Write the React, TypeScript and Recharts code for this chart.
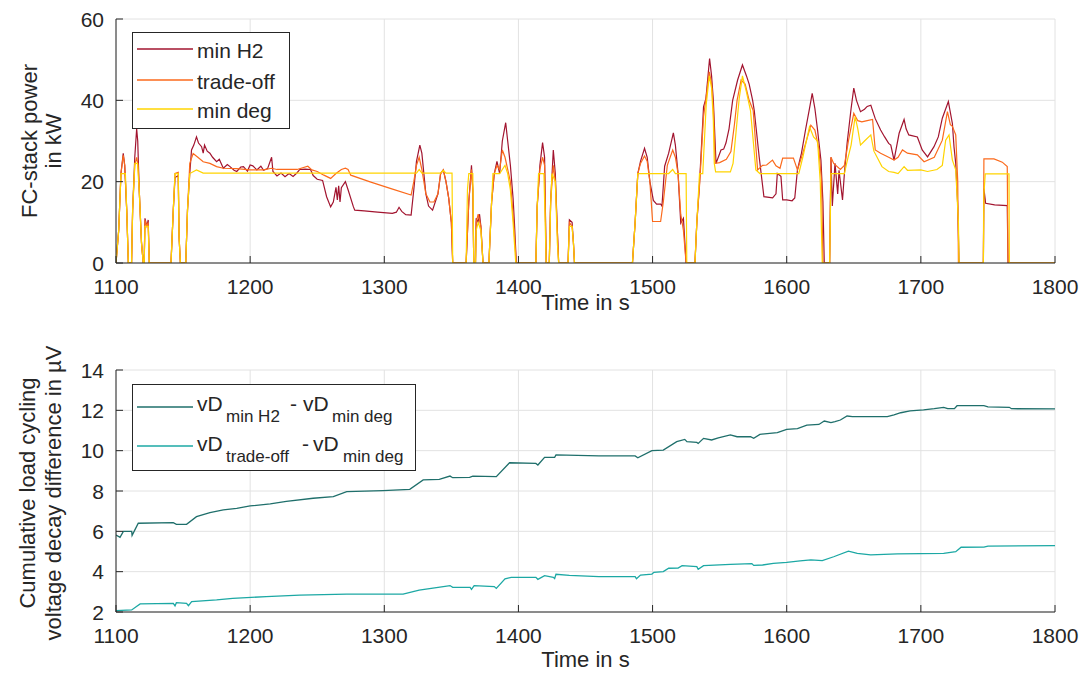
import React from 'react'
import { LineChart, Line, XAxis, YAxis, CartesianGrid, Legend } from 'recharts'

const FONT = '"Liberation Sans", Arial, Helvetica, sans-serif'
const AXIS = '#262626'
const GRID = '#e2e2e2'

const timeTicks = [1100, 1200, 1300, 1400, 1500, 1600, 1700, 1800]
const powerTicks = [0, 20, 40, 60]
const decayTicks = [2, 4, 6, 8, 10, 12, 14]

// FC-stack power in kW, [time s, value]
const minH2: [number, number][] = [
  [1100, 0], [1102, 8], [1103.7, 22], [1105.4, 27], [1106.5, 24], [1108, 13], [1109.2, 0], [1111.6, 0],
  [1112.4, 13], [1114, 26], [1115.4, 33], [1116.2, 30], [1117.3, 18], [1119, 5], [1120.3, 0], [1121, 0],
  [1121.6, 11], [1123, 9], [1124, 10.6], [1124.8, 0], [1141, 0], [1142.7, 13], [1144, 21], [1146.4, 21.5],
  [1147, 6.5], [1148, 0], [1152, 0], [1153.3, 13], [1155, 22], [1156.3, 27.8], [1158, 29], [1160, 31],
  [1161.5, 29.5], [1163.8, 28.6], [1165, 27], [1166, 29], [1168, 27.5], [1170, 27], [1172, 26], [1175, 24.9],
  [1177, 25.5], [1180, 23.3], [1183, 24.2], [1185, 23.7], [1188, 22.8], [1190, 22.5], [1193, 23.6], [1195, 23.7],
  [1198, 22.6], [1200, 24.1], [1202, 23.9], [1205, 22.9], [1208, 23.8], [1210, 22.8], [1213, 23.2], [1216, 26],
  [1217, 22.5], [1220, 21.4], [1223, 22.1], [1226, 21.2], [1229, 22], [1232, 21.3], [1235, 22.2], [1237, 23],
  [1241, 23.1], [1245, 23], [1247, 21.5], [1250, 20.6], [1254, 20.3], [1257, 16.3], [1260, 13.8], [1262, 15],
  [1264, 18.6], [1265, 15.5], [1266, 19], [1267, 15], [1268, 18.5], [1271, 20], [1273, 18], [1277, 13.8],
  [1278, 13], [1285, 12.8], [1295, 12.5], [1306, 12.2], [1309, 12.5], [1311, 13.7], [1313, 12.7], [1316, 11.9],
  [1320, 11.8], [1322, 18], [1324, 25], [1326.5, 29], [1328, 27], [1331, 17], [1333, 14], [1336, 13],
  [1340, 17], [1342, 22], [1344, 22.9], [1346, 20], [1348, 16], [1350, 10], [1351, 0], [1361, 0],
  [1363, 15], [1365, 24], [1366, 18], [1366.7, 0], [1368, 0], [1368.5, 11], [1370, 10], [1371, 12],
  [1372, 9], [1373.6, 0], [1378, 0], [1380, 15], [1382, 22], [1384, 25], [1386, 22], [1388, 30],
  [1390.5, 34.5], [1392, 30], [1394, 24], [1396, 16], [1397, 10], [1398, 3], [1398.4, 0], [1413, 0],
  [1414, 14], [1416, 24], [1418, 29.6], [1419.5, 26], [1420.7, 0], [1423, 0], [1424, 15], [1426, 27.8],
  [1427.5, 22], [1429, 8], [1430, 0], [1437, 0], [1438, 10.6], [1440, 10], [1441, 5], [1441.8, 0],
  [1485, 0], [1487, 10], [1489, 22], [1491, 25], [1494, 28.2], [1496, 26], [1498, 20], [1500.6, 15.4],
  [1503, 14.5], [1506, 14.5], [1507, 14], [1509, 23.8], [1512, 27], [1515.5, 32], [1517, 29], [1519, 22],
  [1521, 9.8], [1523, 11], [1525, 0], [1531.6, 0], [1533, 10], [1535, 19.6], [1538, 38.4], [1539.8, 40.5],
  [1542.5, 50.3], [1544, 46], [1545.3, 40], [1547.3, 24.5], [1549, 26], [1551, 27.8], [1553, 28], [1554.7, 29.5],
  [1557, 33], [1559.7, 40], [1563.4, 45], [1567, 48.7], [1570, 46], [1572, 44], [1574.6, 40], [1575.8, 37.5],
  [1579.5, 26], [1583, 16.3], [1589.5, 16], [1592, 17], [1593, 22], [1595.7, 21.3], [1597, 15.5], [1600, 15.5],
  [1604, 15.3], [1606, 16], [1608, 22.9], [1611, 27], [1614, 32.7], [1617, 38], [1619, 41.7], [1621, 38],
  [1623, 32.7], [1625.5, 25.3], [1627, 15], [1628, 0], [1632, 0], [1633, 26], [1634, 14], [1636, 24.5],
  [1638, 17], [1639, 22.8], [1641.6, 15.5], [1643, 22], [1645, 29.4], [1648, 38], [1650, 43], [1652, 40],
  [1655, 37.2], [1658, 37.8], [1660, 38.5], [1662.7, 38.8], [1666, 35.5], [1670, 32.7], [1673, 31], [1676, 29.4],
  [1677.6, 29], [1680, 25.3], [1683.8, 31.9], [1687.5, 35.3], [1689, 33], [1691, 31.5], [1697.4, 31], [1701, 27.8],
  [1705, 26.1], [1709.8, 28.6], [1713, 31], [1716, 35.6], [1720.5, 39.7], [1723.5, 34.3], [1724.7, 28.6], [1726, 24.5],
  [1727.5, 14], [1728.5, 0], [1746.6, 0], [1747, 18.3], [1748.3, 14.7], [1755, 14.3], [1764.4, 14.1], [1765, 0],
  [1800, 0],
]

const tradeOff: [number, number][] = [
  [1100, 0], [1102, 8], [1103.7, 22], [1105.4, 26.5], [1106.5, 24], [1108, 13], [1109.2, 0], [1111.6, 0],
  [1112.4, 13], [1114, 24], [1115.4, 26], [1116.5, 24], [1117.3, 18], [1119, 5], [1120.3, 0], [1121, 0],
  [1121.6, 10.5], [1123, 9], [1124, 10], [1124.8, 0], [1141, 0], [1142.7, 13], [1144, 22], [1146.4, 22.3],
  [1147, 6.5], [1148, 0], [1152, 0], [1153.3, 13], [1155, 24.5], [1157.5, 26.9], [1161, 26], [1165, 24.9],
  [1170, 24.5], [1175, 23.7], [1180, 23.3], [1190, 23.2], [1200, 22.9], [1210, 22.9], [1216, 23.3], [1220, 23],
  [1235, 23], [1243, 23.8], [1246, 22.9], [1250, 22.5], [1255, 21.6], [1260, 20.8], [1264, 22], [1268, 23],
  [1271, 23.3], [1273, 23], [1275, 21.6], [1290, 19.9], [1305, 18.3], [1320, 16.7], [1322, 20], [1324, 24],
  [1326, 26], [1328, 23], [1331, 17], [1334, 15], [1337, 15], [1340, 17], [1342, 22], [1344, 22.9],
  [1346, 20], [1348, 16], [1350, 10], [1351, 0], [1361, 0], [1363, 15], [1365, 23], [1366, 18],
  [1366.7, 0], [1368, 0], [1368.5, 10], [1370, 12], [1372, 9], [1373.6, 0], [1378, 0], [1380, 15],
  [1382, 22], [1384, 24], [1386, 23], [1388, 27.8], [1390, 26], [1392, 23], [1394, 20], [1396, 12],
  [1398, 2], [1398.4, 0], [1413, 0], [1414, 14], [1416, 23], [1418, 26], [1419.5, 24], [1420.7, 0],
  [1423, 0], [1424, 15], [1426, 24], [1427.5, 20], [1429, 8], [1430, 0], [1437, 0], [1438, 10],
  [1440, 9], [1441, 5], [1441.8, 0], [1485, 0], [1487, 10], [1489, 22], [1491, 24.5], [1494, 26.3],
  [1496, 25], [1498, 20], [1500, 10.2], [1506, 10.2], [1508, 15], [1511, 24], [1515, 27.8], [1517, 26],
  [1519, 22], [1521, 12], [1523, 8], [1525, 0], [1531.6, 0], [1533, 10], [1535, 19], [1538, 36],
  [1540, 41], [1542.3, 47], [1544, 44], [1545.3, 38], [1546.7, 24.5], [1550, 24.7], [1555, 25.5], [1558.4, 27.4],
  [1561, 34], [1563, 40], [1566, 45], [1569, 44], [1572, 40], [1575, 37.5], [1578.3, 22.9], [1582, 24],
  [1585, 24.1], [1589.4, 25.3], [1592, 23.9], [1595, 23.3], [1597, 25.8], [1605, 25.8], [1608, 22.9], [1612, 27],
  [1618, 33.9], [1621, 32.7], [1624, 28], [1626, 20], [1627, 0], [1632, 0], [1633, 26], [1635, 24.5],
  [1640, 23], [1643, 24], [1646, 30], [1650, 36.8], [1653, 35], [1656, 34.7], [1660, 35], [1664, 35.3],
  [1666, 27.8], [1670, 27], [1676, 26], [1680, 25.3], [1683, 26], [1686.3, 27.8], [1690, 27], [1697.4, 26.6],
  [1702.4, 24.9], [1710, 26], [1716, 30.2], [1719.8, 37.2], [1722, 34], [1723.5, 33.6], [1726, 31.5], [1727.5, 20],
  [1728, 0], [1746.6, 0], [1747, 25.6], [1754.5, 25.6], [1760.7, 24.8], [1764.4, 23.7], [1765, 0], [1800, 0],
]

const minDeg: [number, number][] = [
  [1100, 0], [1102, 8], [1103.7, 22], [1107, 22], [1108, 13], [1109.2, 0], [1111.6, 0], [1112.4, 13],
  [1114, 24.5], [1116, 24.5], [1117.3, 18], [1119, 5], [1120.3, 0], [1121, 0], [1121.6, 9], [1124, 9],
  [1124.8, 0], [1141, 0], [1142.7, 13], [1144, 22], [1146.4, 22], [1147, 6.5], [1148, 0], [1152, 0],
  [1153.3, 13], [1155, 22], [1160, 22.9], [1165, 22.1], [1324, 22.1], [1326, 23], [1328, 22.1], [1342, 22.1],
  [1344, 22.8], [1346, 22.1], [1350.5, 22.1], [1351, 0], [1361, 0], [1362, 18], [1363, 22], [1366, 22],
  [1366.7, 0], [1368, 0], [1368.5, 8], [1370, 10], [1372, 8], [1373.6, 0], [1378, 0], [1380, 15],
  [1381, 22], [1386, 22], [1388, 23], [1390, 24], [1392, 22], [1394, 18], [1396, 10], [1398, 0],
  [1413, 0], [1414, 14], [1415, 22], [1419, 22], [1420.7, 0], [1423, 0], [1424, 14], [1425, 22],
  [1427.5, 20], [1429, 5], [1430, 0], [1437, 0], [1438, 9], [1440, 9], [1441, 5], [1441.8, 0],
  [1485, 0], [1487, 10], [1489, 22], [1512, 22], [1515, 23], [1517, 22], [1525, 22], [1525.5, 0],
  [1531.6, 0], [1533, 10], [1535, 22], [1537.4, 22], [1540, 39], [1542.3, 46], [1544, 43], [1545.3, 35],
  [1546, 24.5], [1547, 22.4], [1558, 22.4], [1560, 24.5], [1564.6, 40.5], [1567, 46], [1570, 42], [1573, 37.5],
  [1577, 22.9], [1580, 22], [1609, 22], [1612, 26], [1617, 33.5], [1620, 31], [1623, 30], [1625, 20],
  [1626.5, 0], [1632, 0], [1633, 22], [1643, 22], [1645, 25], [1648, 29], [1651, 36], [1653, 33],
  [1655, 29], [1658, 30], [1662.7, 31.5], [1665, 27.5], [1671, 23.7], [1676, 22.5], [1680, 22.3], [1683, 22],
  [1687.5, 23.7], [1690, 22.8], [1700, 22.9], [1705, 22.5], [1712, 23], [1716, 24], [1718.5, 30.2], [1721, 31.5],
  [1723.5, 25.3], [1726, 22.9], [1728, 10], [1728.5, 0], [1746.6, 0], [1747, 17], [1748, 21.9], [1765.7, 21.9],
  [1766, 0], [1800, 0],
]

// cumulative voltage decay difference in µV
const diffMinH2: [number, number][] = [
  [1100, 5.82], [1103, 5.7], [1105.5, 6.0], [1111.7, 6.0], [1112, 5.8], [1116.6, 6.4], [1142.7, 6.43], [1145, 6.35],
  [1152.6, 6.35], [1160, 6.73], [1170, 6.93], [1180, 7.06], [1190, 7.14], [1200, 7.26], [1215, 7.36], [1227, 7.49],
  [1247, 7.64], [1262, 7.72], [1272, 7.97], [1299, 8.02], [1319, 8.08], [1329, 8.55], [1341, 8.58], [1349, 8.74],
  [1351, 8.66], [1363.6, 8.68], [1366, 8.74], [1383.5, 8.71], [1393.4, 9.4], [1413, 9.37], [1414.5, 9.29], [1419.5, 9.67],
  [1427, 9.67], [1428, 9.79], [1460, 9.74], [1487, 9.74], [1489, 9.65], [1499.5, 10.0], [1508, 10.03], [1518, 10.45],
  [1524, 10.56], [1525.6, 10.45], [1533, 10.41], [1534, 10.36], [1538, 10.61], [1544, 10.53], [1549, 10.64], [1558, 10.78],
  [1563, 10.69], [1573, 10.69], [1575.4, 10.61], [1580, 10.81], [1593, 10.89], [1600, 11.06], [1608, 11.09], [1615, 11.27],
  [1624, 11.3], [1628, 11.47], [1633, 11.39], [1636, 11.44], [1640, 11.52], [1645, 11.72], [1649, 11.69], [1675, 11.69],
  [1680, 11.77], [1685, 11.88], [1692, 11.97], [1702, 12.02], [1710, 12.08], [1717, 12.15], [1720, 12.08], [1725, 12.08],
  [1727, 12.23], [1747, 12.23], [1750, 12.17], [1766, 12.15], [1767.5, 12.08], [1800, 12.07],
]

const diffTradeOff: [number, number][] = [
  [1100, 2.07], [1111.7, 2.1], [1115, 2.26], [1118, 2.4], [1142.7, 2.43], [1144, 2.3], [1145, 2.46], [1152.6, 2.43],
  [1154, 2.31], [1156.4, 2.51], [1175, 2.6], [1187, 2.68], [1212, 2.76], [1237, 2.84], [1272, 2.89], [1314, 2.89],
  [1326, 3.09], [1344, 3.26], [1349, 3.31], [1351, 3.22], [1364, 3.22], [1365, 3.12], [1367, 3.31], [1382, 3.26],
  [1383.5, 3.17], [1390, 3.64], [1394.6, 3.72], [1413, 3.72], [1414.5, 3.62], [1419.5, 3.8], [1426, 3.72], [1427, 3.66],
  [1428, 3.87], [1438, 3.82], [1460, 3.75], [1487, 3.75], [1488, 3.65], [1491, 3.83], [1499.5, 3.88], [1501, 3.97],
  [1508, 4.0], [1512, 4.17], [1519, 4.18], [1522, 4.3], [1533, 4.25], [1534, 4.12], [1538, 4.3], [1558, 4.36],
  [1574, 4.4], [1575.4, 4.31], [1582, 4.33], [1590, 4.41], [1600, 4.46], [1610, 4.53], [1618, 4.58], [1626.5, 4.55],
  [1635, 4.74], [1646, 5.02], [1652.6, 4.91], [1662.6, 4.83], [1682.5, 4.88], [1717, 4.91], [1726, 4.99], [1730, 5.21],
  [1747, 5.22], [1750, 5.27], [1800, 5.29],
]

const pts = (rows: [number, number][]) => rows.map(([t, v]) => ({ t, v }))

const BottomTick = ({ x, y, payload }: any) => (
  <g>
    <line x1={x} y1={y} x2={x} y2={y - 7} stroke={AXIS} />
    <text x={x} y={y + 23} textAnchor="middle" dominantBaseline="central" fontSize={21} fontFamily={FONT} fill={AXIS}>
      {payload.value}
    </text>
  </g>
)
const TopTick = ({ x, y }: any) => <line x1={x} y1={y} x2={x} y2={y + 7} stroke={AXIS} />
const LeftTick = ({ x, y, payload }: any) => (
  <g>
    <line x1={x} y1={y} x2={x + 7} y2={y} stroke={AXIS} />
    <text x={x - 12} y={y} textAnchor="end" dominantBaseline="central" fontSize={21} fontFamily={FONT} fill={AXIS}>
      {payload.value}
    </text>
  </g>
)
const RightTick = ({ x, y }: any) => <line x1={x} y1={y} x2={x - 7} y2={y} stroke={AXIS} />

const yTitle = (lines: string[], xs: number[], yc: number) => () => (
  <g>
    {lines.map((s, i) => (
      <text key={i} x={xs[i]} y={yc} transform={`rotate(-90 ${xs[i]} ${yc})`} textAnchor="middle"
        dominantBaseline="central" fontSize={22} fontFamily={FONT} fill={AXIS}>{s}</text>
    ))}
  </g>
)
const xTitle = (y: number) => () => (
  <text x={585.5} y={y} textAnchor="middle" dominantBaseline="central" fontSize={22} fontFamily={FONT} fill={AXIS}>
    Time in s
  </text>
)

const powerSeries = [
  { name: 'min H2', color: '#a2142f', rows: minH2 },
  { name: 'trade-off', color: '#fb6a1c', rows: tradeOff },
  { name: 'min deg', color: '#ffd400', rows: minDeg },
]

const PowerLegend = () => (
  <svg width={158} height={97} style={{ display: 'block' }}>
    <rect x={0.5} y={0.5} width={157} height={96} fill="#fff" stroke={AXIS} />
    {powerSeries.map((s, i) => {
      const y = [17, 48, 77][i]
      return (
        <g key={s.name}>
          <line x1={5} x2={61} y1={y} y2={y} stroke={s.color} strokeWidth={1.3} />
          <text x={65} y={y + 1} dominantBaseline="central" fontSize={21} fontFamily={FONT} fill={AXIS}>{s.name}</text>
        </g>
      )
    })}
  </svg>
)

const DecayLegend = () => {
  const main = { fontSize: 21, fontFamily: FONT, fill: AXIS }
  const sub = { fontSize: 17, fontFamily: FONT, fill: AXIS }
  return (
    <svg width={284} height={87} style={{ display: 'block' }}>
      <rect x={0.5} y={0.5} width={283} height={86} fill="#fff" stroke={AXIS} />
      <line x1={5} x2={61} y1={23} y2={23} stroke="#1f6f6b" strokeWidth={1.3} />
      <text y={27} {...main} x={65}>vD</text>
      <text y={38} {...sub} x={94}>min H2</text>
      <text y={27} {...main} x={158}>-</text>
      <text y={27} {...main} x={171}>vD</text>
      <text y={38} {...sub} x={200}>min deg</text>
      <line x1={5} x2={61} y1={62} y2={62} stroke="#1ca8a4" strokeWidth={1.3} />
      <text y={67} {...main} x={65}>vD</text>
      <text y={78} {...sub} x={94}>trade-off</text>
      <text y={67} {...main} x={170}>-</text>
      <text y={67} {...main} x={181}>vD</text>
      <text y={78} {...sub} x={211}>min deg</text>
    </svg>
  )
}

export default function App() {
  return (
    <div style={{ position: 'absolute', left: 0, top: 0, width: 1086, height: 686, background: '#fff' }}>
      <div style={{ position: 'absolute', left: 0, top: 0 }}>
        <LineChart width={1086} height={330} margin={{ top: 19, right: 31, bottom: 17, left: 0 }}>
          <CartesianGrid stroke={GRID} />
          <XAxis dataKey="t" type="number" domain={[1100, 1800]} ticks={timeTicks} interval={0} allowDataOverflow
            height={50} tickSize={0} tickMargin={0} tickLine={false} tick={BottomTick} axisLine={{ stroke: AXIS }}
            label={{ content: xTitle(302) }} />
          <XAxis xAxisId="top" orientation="top" dataKey="t" type="number" domain={[1100, 1800]} ticks={timeTicks}
            interval={0} allowDataOverflow height={0} tickSize={0} tickMargin={0} tickLine={false} tick={TopTick}
            axisLine={{ stroke: AXIS }} />
          <YAxis type="number" domain={[0, 60]} ticks={powerTicks} interval={0} allowDataOverflow width={116}
            tickSize={0} tickMargin={0} tickLine={false} tick={LeftTick} axisLine={{ stroke: AXIS }}
            label={{ content: yTitle(['FC-stack power', 'in kW'], [29, 53], 141) }} />
          <YAxis yAxisId="right" orientation="right" type="number" domain={[0, 60]} ticks={powerTicks} interval={0}
            width={0} tickSize={0} tickMargin={0} tickLine={false} tick={RightTick} axisLine={{ stroke: AXIS }} />
          {powerSeries.map((s) => (
            <Line key={s.name} name={s.name} data={pts(s.rows)} dataKey="v" type="linear" stroke={s.color}
              strokeWidth={1.2} dot={false} isAnimationActive={false} />
          ))}
          <Legend layout="vertical" align="center" verticalAlign="middle" content={() => <PowerLegend />}
            wrapperStyle={{ left: 132, top: 32, width: 158, height: 97 }} />
        </LineChart>
      </div>
      <div style={{ position: 'absolute', left: 0, top: 330 }}>
        <LineChart width={1086} height={356} margin={{ top: 40, right: 31, bottom: 24, left: 0 }}>
          <CartesianGrid stroke={GRID} />
          <XAxis dataKey="t" type="number" domain={[1100, 1800]} ticks={timeTicks} interval={0} allowDataOverflow
            height={50} tickSize={0} tickMargin={0} tickLine={false} tick={BottomTick} axisLine={{ stroke: AXIS }}
            label={{ content: xTitle(329) }} />
          <XAxis xAxisId="top" orientation="top" dataKey="t" type="number" domain={[1100, 1800]} ticks={timeTicks}
            interval={0} allowDataOverflow height={0} tickSize={0} tickMargin={0} tickLine={false} tick={TopTick}
            axisLine={{ stroke: AXIS }} />
          <YAxis type="number" domain={[2, 14]} ticks={decayTicks} interval={0} allowDataOverflow width={116}
            tickSize={0} tickMargin={0} tickLine={false} tick={LeftTick} axisLine={{ stroke: AXIS }}
            label={{ content: yTitle(['Cumulative load cycling', 'voltage decay difference in µV'], [27, 53], 163) }} />
          <YAxis yAxisId="right" orientation="right" type="number" domain={[2, 14]} ticks={decayTicks} interval={0}
            width={0} tickSize={0} tickMargin={0} tickLine={false} tick={RightTick} axisLine={{ stroke: AXIS }} />
          <Line name="minH2" data={pts(diffMinH2)} dataKey="v" type="linear" stroke="#1f6f6b" strokeWidth={1.3}
            dot={false} isAnimationActive={false} />
          <Line name="tradeoff" data={pts(diffTradeOff)} dataKey="v" type="linear" stroke="#1ca8a4" strokeWidth={1.3}
            dot={false} isAnimationActive={false} />
          <Legend layout="vertical" align="center" verticalAlign="middle" content={() => <DecayLegend />}
            wrapperStyle={{ left: 132, top: 54, width: 284, height: 87 }} />
        </LineChart>
      </div>
    </div>
  )
}
